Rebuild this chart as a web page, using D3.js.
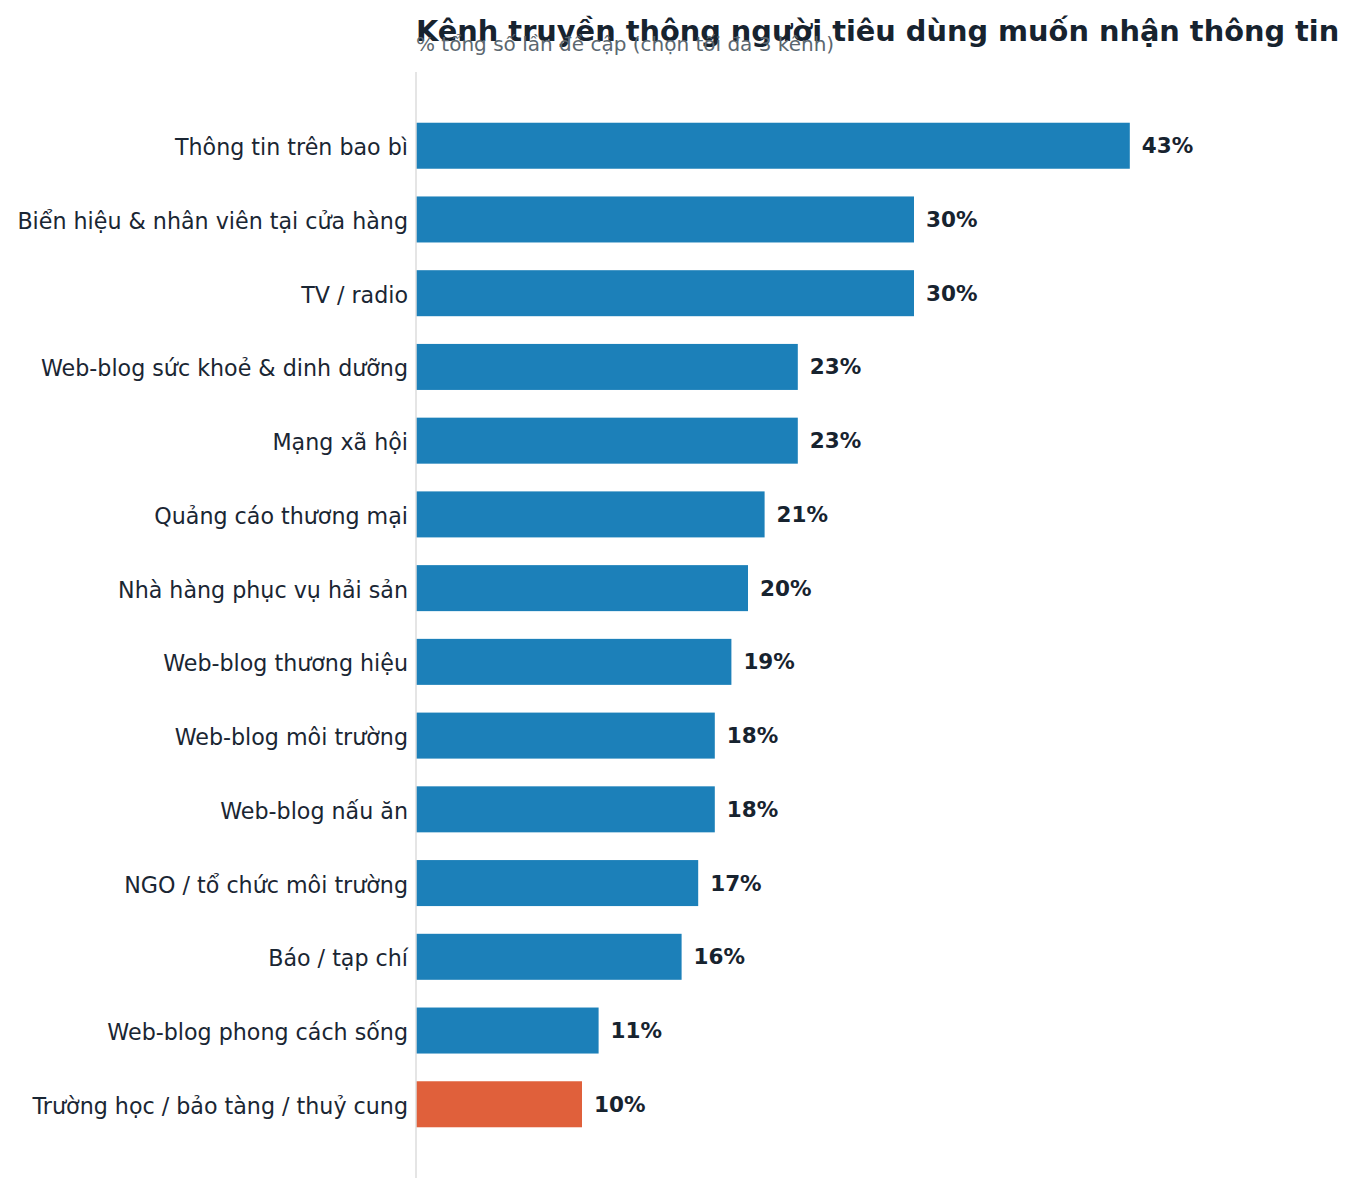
<!DOCTYPE html>
<html>
<head>
<meta charset="utf-8">
<script src="https://cdn.jsdelivr.net/npm/d3@7"></script>
<style>
  body { margin: 0; background: #fff; }
  text { font-family: "DejaVu Sans", sans-serif; }
</style>
</head>
<body>
<div id="chart"></div>
<script>
// data
var channels = [
  "Thông tin trên bao bì",
  "Biển hiệu & nhân viên tại cửa hàng",
  "TV / radio",
  "Web-blog sức khoẻ & dinh dưỡng",
  "Mạng xã hội",
  "Quảng cáo thương mại",
  "Nhà hàng phục vụ hải sản",
  "Web-blog thương hiệu",
  "Web-blog môi trường",
  "Web-blog nấu ăn",
  "NGO / tổ chức môi trường",
  "Báo / tạp chí",
  "Web-blog phong cách sống",
  "Trường học / bảo tàng / thuỷ cung"
];
var shares = [43, 30, 30, 23, 23, 21, 20, 19, 18, 18, 17, 16, 11, 10];
var highlighted = ["Trường học / bảo tàng / thuỷ cung"];

var title = "Kênh truyền thông người tiêu dùng muốn nhận thông tin";
var subtitle = "% tổng số lần đề cập (chọn tối đa 3 kênh)";

var width = 1355, height = 1193;
var margin = { top: 72, right: 15, bottom: 15, left: 416 };

var svg = d3.select("#chart")
  .append("svg")
  .attr("width", width)
  .attr("height", height);

var g = svg.append("g")
  .attr("transform", `translate(${margin.left},${margin.top})`);

var x = d3.scaleLinear()
  .domain([0, 50])
  .range([0, 830]);

var y = d3.scaleBand()
  .domain(channels)
  .range([0, 1106])
  .paddingInner(0.376)
  .paddingOuter(0.688);

// bars
g.selectAll("rect.bar")
  .data(channels)
  .enter()
  .append("rect")
  .attr("class", "bar")
  .attr("x", 0)
  .attr("y", function(d) { return y(d); })
  .attr("width", function(d, i) { return x(shares[i]); })
  .attr("height", y.bandwidth())
  .attr("fill", function(d) {
    return highlighted.indexOf(d) >= 0 ? "#e0603b" : "#1c80b9";
  });

// value labels
g.selectAll("text.value")
  .data(channels)
  .enter()
  .append("text")
  .attr("class", "value")
  .attr("x", function(d, i) { return x(shares[i]) + 12; })
  .attr("y", function(d) { return y(d) + y.bandwidth() / 2; })
  .attr("dy", "0.35em")
  .attr("font-size", "21.5px")
  .attr("font-weight", "bold")
  .attr("fill", "#17232f")
  .text(function(d, i) { return shares[i] + "%"; });

// category axis
var yAxis = g.append("g")
  .call(d3.axisLeft(y).tickSize(0).tickPadding(8));
yAxis.select(".domain").remove();
yAxis.selectAll("text")
  .attr("font-size", "22.2px")
  .attr("dy", "0.43em")
  .attr("fill", "#1a2633")
  .style("font-family", "DejaVu Sans, sans-serif");

g.append("line")
  .attr("x1", 0).attr("x2", 0)
  .attr("y1", 0).attr("y2", 1106)
  .attr("stroke", "#dcdcdc")
  .attr("stroke-width", 1.5);

// titles
svg.append("text")
  .attr("x", margin.left)
  .attr("y", 41)
  .attr("font-size", "28.8px")
  .attr("font-weight", "bold")
  .attr("fill", "#17232f")
  .text(title);

svg.append("text")
  .attr("x", margin.left)
  .attr("y", 51)
  .attr("font-size", "20px")
  .attr("fill", "#5b6770")
  .text(subtitle);
</script>
</body>
</html>
